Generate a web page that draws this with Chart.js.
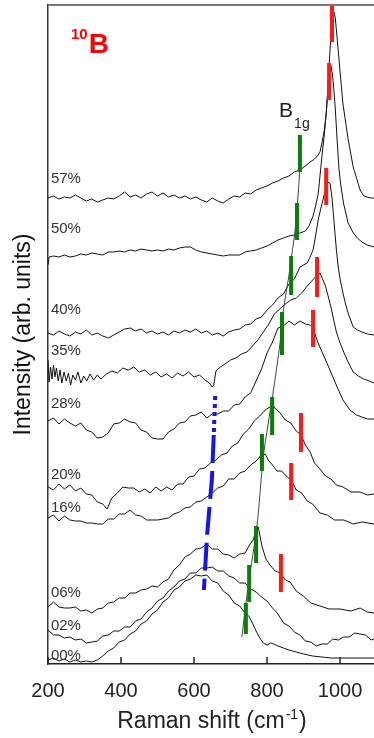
<!DOCTYPE html>
<html>
<head>
<meta charset="utf-8">
<script src="https://cdn.jsdelivr.net/npm/chart.js@4.4.1/dist/chart.umd.min.js"></script>
<style>
  html, body { margin: 0; padding: 0; background: #fff; overflow: hidden; }
  canvas { display: block; }
</style>
</head>
<body>
<canvas id="raman" width="374" height="738" style="width:374px;height:738px"></canvas>
<script>
// Raman spectra of 10B samples, stacked (intensity in arbitrary units, offset per spectrum)

const x57 = [200,215,230,245,260,275,290,305,320,335,350,365,380,395,410,425,440,455,470,485,500,515,530,545,560,575,590,605,620,635,650,665,680,695,710,725,740,755,770,785,800,815,830,845,860,875,890,905,918,930,940,945,951,957,962,967,971,975,979,983,987,992,1000,1008,1022,1036,1055,1065,1074,1084,1093];
const y57 = [466,468,465,467,466,469,466,463,465,462,464,466,465,468,472,467,469,466,470,472,468,471,467,469,466,468,465,467,464,462,466,463,461,465,468,467,471,470,474,476,478,481,483,486,488,492,494,498,502,505,509,512,522,534,550,578,605,628,645,652,646,626,592,560,525,497,474,468,467,466,466];

const x50 = [200,203,215,230,245,260,275,290,305,320,335,350,365,380,395,410,425,440,455,470,485,500,515,530,545,560,575,590,605,620,635,650,665,680,695,710,725,740,755,770,785,800,815,830,845,860,875,890,905,915,926,933,940,945,951,957,962,967,971,975,979,983,987,992,997,1003,1010,1022,1035,1047,1060,1074,1093];
const y50 = [399,407,408,407,409,407,408,410,409,411,410,409,412,412,413,412,414,413,415,414,413,414,413,415,414,416,417,417,414,412,411,410,409,408,409,409,409,412,413,414,416,418,421,424,426,428,429,431,433,438,448,458,470,488,510,530,550,575,590,598,590,575,555,524,495,476,460,441,432,426,422,419,417];

const x40 = [200,215,230,245,260,275,290,305,320,335,350,365,380,395,410,425,440,455,470,485,500,515,530,545,560,575,590,605,620,635,650,665,680,695,710,725,740,755,770,785,800,815,830,845,860,875,890,900,910,918,926,933,940,947,953,960,965,969,973,978,982,986,990,995,1001,1008,1015,1022,1030,1036,1048,1060,1075,1093];
const y40 = [331,329,333,330,328,332,330,334,329,331,328,326,329,332,335,336,333,335,331,333,330,332,329,333,331,334,332,335,331,333,329,331,328,332,334,335,339,340,345,347,354,359,366,370,380,385,397,399,401,407,414,428,444,455,464,474,480,482,480,466,449,431,414,397,383,371,360,351,343,337,334,332,330,329];

const x35 = [200,203,207,211,215,219,223,228,233,238,244,250,256,262,268,275,282,290,298,306,315,325,335,345,360,375,390,405,420,435,450,465,480,495,510,525,540,555,570,585,600,615,630,642,650,654,660,672,685,700,715,730,745,760,775,790,805,820,835,850,865,880,895,910,925,935,945,952,960,968,975,982,990,1000,1010,1022,1036,1050,1065,1080,1093];
const y35 = [304,282,297,285,299,287,296,283,294,281,292,283,291,279,289,284,292,281,288,283,290,284,289,285,290,293,291,296,294,297,292,294,289,292,287,290,286,291,288,292,287,289,284,281,277,279,293,297,300,304,306,310,312,318,324,332,340,350,355,360,364,366,371,378,384,388,391,385,378,367,357,345,332,321,312,302,292,288,285,283,281];

const x28 = [200,215,230,245,260,275,290,305,320,335,350,365,380,395,410,425,440,455,470,485,500,515,530,545,560,575,590,605,620,635,650,665,680,695,710,725,740,755,770,785,800,815,830,845,860,875,890,905,918,926,934,940,952,964,978,992,1008,1027,1045,1060,1075,1093];
const y28 = [243,246,240,245,241,238,241,234,232,226,227,231,240,241,245,242,241,234,232,226,225,225,232,235,241,242,248,249,252,246,250,250,253,253,259,260,267,271,283,295,311,322,336,338,343,339,343,340,339,336,327,321,311,301,289,277,264,254,249,247,245,245];

const x20 = [200,215,230,245,260,275,290,305,320,335,350,362,375,390,405,420,435,450,465,480,495,510,525,540,555,570,585,600,615,630,645,660,675,690,705,720,735,750,765,780,795,808,816,824,836,850,865,880,893,905,918,930,945,960,975,990,1008,1030,1055,1075,1093];
const y20 = [177,174,180,175,179,173,176,170,169,162,160,155,166,171,177,176,176,172,175,171,177,173,177,174,180,180,187,188,195,196,201,204,209,211,218,221,230,235,243,248,254,257,259,255,251,244,241,233,229,219,212,201,195,188,185,179,177,172,172,169,170];

const x16 = [200,215,230,245,260,275,290,305,320,335,350,365,380,395,410,425,440,455,470,485,500,515,530,545,560,575,590,605,620,635,650,665,680,695,710,725,740,755,770,782,795,805,815,827,840,855,866,880,895,910,925,945,965,985,1010,1036,1060,1093];
const y16 = [146,149,143,148,144,143,143,141,141,140,140,145,145,150,150,154,149,148,144,144,144,145,146,150,152,156,157,162,163,167,171,176,178,185,185,191,193,199,203,208,210,203,199,193,193,187,184,174,171,163,160,151,149,144,144,140,142,140];

const x06 = [200,215,230,245,260,275,290,305,320,335,350,365,380,395,410,425,440,455,470,485,500,515,530,545,560,575,590,605,620,635,650,665,680,695,710,725,740,752,762,770,776,786,797,808,822,836,850,863,880,899,920,945,970,1000,1030,1055,1074,1093];
const y06 = [57,62,57,56,56,57,53,54,51,55,56,61,62,66,66,71,71,74,75,78,77,82,85,94,99,107,110,115,116,120,115,115,110,109,106,110,111,119,124,134,137,118,105,99,93,91,84,82,73,68,61,58,55,55,53,56,52,51];

const x02 = [200,215,230,245,260,275,290,305,320,335,350,365,380,395,410,425,440,455,470,485,500,515,530,545,560,575,590,605,620,635,650,665,680,695,710,725,740,755,770,785,800,815,830,845,860,875,890,905,920,935,950,965,980,995,1010,1025,1040,1055,1070,1085,1093];
const y02 = [34,29,29,26,27,24,25,21,22,23,28,29,33,33,37,37,43,45,52,56,63,66,73,77,83,85,91,91,96,96,97,93,93,88,86,81,81,75,72,67,63,56,50,41,38,32,29,23,22,18,20,20,25,24,27,27,31,30,29,24,25];

const x00 = [200,215,230,245,260,275,290,305,320,335,350,365,380,395,410,425,440,455,470,485,500,515,530,545,560,575,590,605,620,635,650,665,680,695,710,725,740,750,760,770,780,790,800,810,818,830,845,860,880,900,925,950,975,1000,1050,1093];
const y00 = [4,6,3,5,2,4,2,3,2,4,8,13,16,22,24,30,33,40,43,50,54,62,66,74,77,83,85,89,88,89,83,81,73,69,61,58,51,48,41,33,26,21,19,21,20,18,16,14,12,10,8,7,6,6,6,6];

// spectrum labels and the level of their text baseline
const pctLabels = ['57%','50%','40%','35%','28%','20%','16%','06%','02%','00%'];
const pctLevels = [481, 431, 350, 309, 256, 185, 152, 67, 34, 4];

// red marks (upper mode) and green marks (B1g)
const redShift = [978, 970, 962, 937, 926, 893, 866, 838];
const redLow   = [622, 564, 459, 367, 317, 212, 164, 72];
const redHigh  = [662, 601, 496, 407, 354, 251, 201, 110];

const greenShift = [890, 882, 866, 841, 814, 786, 770, 751, 742];
const greenLow   = [492, 424, 369, 309, 229, 193, 101, 62, 30];
const greenHigh  = [529, 461, 408, 352, 267, 230, 138, 99, 61];

// B1g guide line
const trendShift = [731, 748, 773, 789, 803, 816, 836, 844, 858, 868, 877, 888, 893];
const trendLevel = [27, 77, 140, 205, 240, 270, 322, 352, 384, 410, 434, 484, 524];

// blue dashed guide
const blueShift = [658, 654, 649, 636, 627];
const blueLevel = [268, 229, 185, 130, 74];

const xTicks = [200, 400, 600, 800, 1000];

const FONT = "'Liberation Sans', Arial, sans-serif";

function pairs(xs, ys) {
  return xs.map((v, i) => ({ x: v, y: ys[i] }));
}

function marks(shift, low, high) {
  const pts = [];
  shift.forEach((s, i) => {
    pts.push({ x: s, y: low[i] }, { x: s, y: high[i] }, { x: s, y: null });
  });
  return pts;
}

function spectrum(xs, ys) {
  return {
    data: pairs(xs, ys),
    borderColor: '#111',
    borderWidth: 1,
    pointRadius: 0,
    tension: 0
  };
}

// text drawn on top: labels, sample name, mode name, x-axis title, frame, inner ticks
const overlay = {
  id: 'overlay',
  afterDraw(chart) {
    const { ctx, chartArea: a, scales: { x, y } } = chart;
    ctx.save();

    ctx.strokeStyle = '#777';
    ctx.lineWidth = 2;
    ctx.beginPath();
    ctx.moveTo(a.left, a.top);
    ctx.lineTo(a.right, a.top);
    ctx.stroke();

    ctx.strokeStyle = '#222';
    ctx.lineWidth = 1.5;
    xTicks.forEach(t => {
      const px = x.getPixelForValue(t);
      ctx.beginPath();
      ctx.moveTo(px, a.bottom);
      ctx.lineTo(px, a.bottom - 7);
      ctx.stroke();
    });

    ctx.fillStyle = '#333';
    ctx.font = '15px ' + FONT;
    ctx.textBaseline = 'alphabetic';
    ctx.textAlign = 'left';
    pctLabels.forEach((txt, i) => {
      ctx.fillText(txt, x.getPixelForValue(208), y.getPixelForValue(pctLevels[i]));
    });

    // 10B
    ctx.fillStyle = '#ff0000';
    ctx.font = 'bold 15px ' + FONT;
    const sx = x.getPixelForValue(263);
    ctx.fillText('10', sx, y.getPixelForValue(625));
    const w10 = ctx.measureText('10').width;
    ctx.font = 'bold 28px ' + FONT;
    ctx.fillText('B', sx + w10 + 1, y.getPixelForValue(611));

    // B1g
    ctx.fillStyle = '#222';
    ctx.font = '21px ' + FONT;
    const bx = x.getPixelForValue(833);
    ctx.fillText('B', bx, y.getPixelForValue(547));
    const wb = ctx.measureText('B').width;
    ctx.font = '14px ' + FONT;
    ctx.fillText('1g', bx + wb + 1, y.getPixelForValue(536));

    // x-axis title with superscript
    ctx.fillStyle = '#222';
    const main = 'Raman shift (cm';
    ctx.font = '23px ' + FONT;
    const w1 = ctx.measureText(main).width;
    const w3 = ctx.measureText(')').width;
    ctx.font = '14px ' + FONT;
    const w2 = ctx.measureText('-1').width;
    const cx = (a.left + a.right) / 2;
    let tx = cx - (w1 + w2 + w3) / 2;
    const base = a.bottom + 64;
    ctx.font = '23px ' + FONT;
    ctx.fillText(main, tx, base);
    tx += w1;
    ctx.font = '14px ' + FONT;
    ctx.fillText('-1', tx + 1, base - 9);
    tx += w2 + 2;
    ctx.font = '23px ' + FONT;
    ctx.fillText(')', tx, base);

    ctx.restore();
  }
};

const datasets = [
  {
    data: marks(redShift, redLow, redHigh),
    borderColor: '#ff1a1a',
    borderWidth: 4,
    borderCapStyle: 'butt',
    pointRadius: 0,
    spanGaps: false
  },
  {
    data: marks(greenShift, greenLow, greenHigh),
    borderColor: '#0a7d0a',
    borderWidth: 4,
    borderCapStyle: 'butt',
    pointRadius: 0,
    spanGaps: false
  },
  {
    data: pairs(blueShift, blueLevel),
    borderColor: '#1515e6',
    borderWidth: 4,
    pointRadius: 0,
    segment: {
      borderDash: c => (c.p0DataIndex === 0 ? [4, 4] : [28, 8])
    }
  },
  {
    data: pairs(trendShift, trendLevel),
    borderColor: '#444',
    borderWidth: 1,
    pointRadius: 0,
    tension: 0.3
  },
  spectrum(x57, y57),
  spectrum(x50, y50),
  spectrum(x40, y40),
  spectrum(x35, y35),
  spectrum(x28, y28),
  spectrum(x20, y20),
  spectrum(x16, y16),
  spectrum(x06, y06),
  spectrum(x02, y02),
  spectrum(x00, y00)
];

const ctx = document.getElementById('raman').getContext('2d');

new Chart(ctx, {
  type: 'line',
  data: { datasets: datasets },
  options: {
    responsive: false,
    animation: false,
    devicePixelRatio: 1,
    layout: { padding: { top: 5, left: 0, right: 0, bottom: 0 } },
    plugins: {
      legend: { display: false },
      tooltip: { enabled: false }
    },
    scales: {
      x: {
        type: 'linear',
        min: 200,
        max: 1093,
        grid: { display: false },
        border: { display: true, color: '#222', width: 1.5 },
        ticks: {
          stepSize: 200,
          includeBounds: false,
          autoSkip: false,
          maxRotation: 0,
          padding: 7,
          color: '#222',
          font: { size: 20, family: FONT },
          callback: value => String(value)
        },
        afterFit: scale => { scale.height = 74; }
      },
      y: {
        type: 'linear',
        min: 0,
        max: 659,
        grid: { display: false },
        border: { display: true, color: '#333', width: 1.5 },
        ticks: { display: false },
        title: {
          display: true,
          text: 'Intensity (arb. units)',
          color: '#111',
          font: { size: 23, family: FONT },
          padding: { top: 10, bottom: 0 }
        },
        afterFit: scale => { scale.width = 48; }
      }
    }
  },
  plugins: [overlay]
});
</script>
</body>
</html>
